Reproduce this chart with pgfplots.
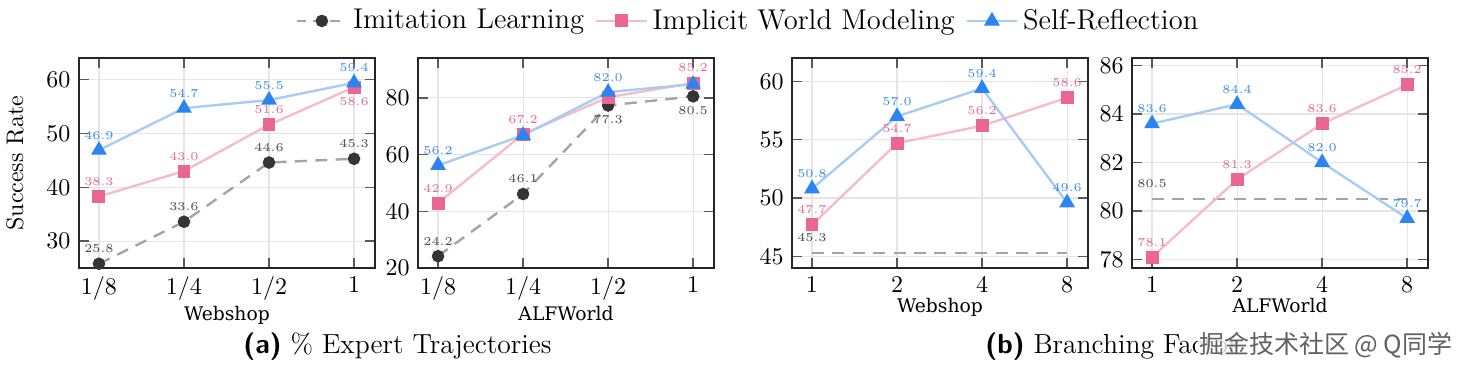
\documentclass[border=0pt]{standalone}
\usepackage{pgfplots}
\pgfplotsset{compat=1.18}
\usepackage{pgfplotstable}
\usepackage{fontspec}
\newfontfamily\cjk{Noto Sans CJK SC}
\newfontfamily\xlfont{DejaVu Serif}

\definecolor{illine}{HTML}{A4A4A4}
\definecolor{ilmark}{HTML}{353535}
\definecolor{iltext}{HTML}{4A4A4A}
\definecolor{iwmline}{HTML}{F5BCCD}
\definecolor{iwmmark}{HTML}{EB6693}
\definecolor{iwmtext}{HTML}{E5689A}
\definecolor{srline}{HTML}{AACBF2}
\definecolor{srmark}{HTML}{2A84F2}
\definecolor{srtext}{HTML}{3A8DE8}

% (a) Webshop, % expert trajectories
\pgfplotstableread{
x y lbl
0 25.8 25.8
1 33.6 33.6
2 44.6 44.6
3 45.3 45.3
}\aaIL
\pgfplotstableread{
x y lbl
0 38.3 38.3
1 43.0 43.0
2 51.6 51.6
3 58.6 {}
}\aaIWM
\pgfplotstableread{
x y lbl
3 58.6 58.6
}\aaIWMbelow
\pgfplotstableread{
x y lbl
0 46.9 46.9
1 54.7 54.7
2 56.2 55.5
3 59.4 59.4
}\aaSR
% (a) ALFWorld
\pgfplotstableread{
x y lbl
0 24.2 24.2
1 46.1 46.1
2 77.3 {}
3 80.5 {}
}\abIL
\pgfplotstableread{
x y lbl
2 77.3 77.3
3 80.5 80.5
}\abILbelow
\pgfplotstableread{
x y lbl
0 42.9 42.9
1 67.2 67.2
2 80.2 {}
3 85.2 85.2
}\abIWM
\pgfplotstableread{
x y lbl
0 56.2 56.2
1 66.8 {}
2 82.0 82.0
3 84.8 {}
}\abSR
% (b) Webshop, branching factor
\pgfplotstableread{
x y lbl
0 45.3 45.3
3 45.3 {}
}\baIL
\pgfplotstableread{
x y lbl
0 47.7 47.7
1 54.7 54.7
2 56.2 56.2
3 58.6 58.6
}\baIWM
\pgfplotstableread{
x y lbl
0 50.8 50.8
1 57.0 57.0
2 59.4 59.4
3 49.6 49.6
}\baSR
% (b) ALFWorld
\pgfplotstableread{
x y lbl
0 80.5 80.5
3 80.5 {}
}\bbIL
\pgfplotstableread{
x y lbl
0 78.1 78.1
1 81.3 81.3
2 83.6 83.6
3 85.2 85.2
}\bbIWM
\pgfplotstableread{
x y lbl
0 83.6 83.6
1 84.4 84.4
2 82.0 82.0
3 79.7 79.7
}\bbSR

\pgfplotsset{
  panel/.style={
    scale only axis, width=123.3pt, height=87.5pt, anchor=south west,
    xmin=-0.235, xmax=3.245, xtick={0,1,2,3},
    grid=major, major grid style={draw=black!10, line width=0.5pt},
    axis line style={line width=0.8pt, black!85},
    major tick length=4pt,
    tick style={black!65, line width=0.6pt},
    tick label style={font=\fontsize{10}{12}\selectfont},
    xlabel style={font=\xlfont\fontsize{7.8}{9}\selectfont, yshift=4.3pt},
    clip=false,
  },
  lbls/.style 2 args={
    nodes near coords, point meta=explicit symbolic,
    every node near coord/.append style={font=\tiny, anchor=#2, inner xsep=1pt, inner ysep=4pt, text=#1},
  },
  ilL/.style={color=illine, line width=1pt, dash pattern=on 4pt off 3pt, mark=*, mark size=2.1pt, mark options={solid, fill=ilmark, draw=ilmark}},
  iwmL/.style={color=iwmline, line width=1pt, mark=square*, mark size=2.2pt, mark options={fill=iwmmark, draw=iwmmark}},
  srL/.style={color=srline, line width=1pt, mark=triangle*, mark size=2.8pt, mark options={fill=srmark, draw=srmark}},
  il/.style={ilL, dash pattern=on 5pt off 3.5pt, lbls={iltext}{south}},
  ilflat/.style={color=illine, line width=1pt, dash pattern=on 5pt off 3.5pt, mark=none, lbls={iltext}{south}},
  iwm/.style={iwmL, lbls={iwmtext}{south}},
  sr/.style={srL, lbls={srtext}{south}},
  below/.style={draw=none, mark=none, lbls={#1}{north}},
}

\begin{document}
\begin{tikzpicture}
\path[use as bounding box] (0,0) rectangle (610pt,155pt);

\begin{axis}[panel, at={(32.9pt,43.3pt)}, ymin=25, ymax=64, ytick={30,40,50,60},
  xticklabels={$1/8$,$1/4$,$1/2$,$1$}, xlabel={Webshop}, ylabel={Success Rate},
  ylabel style={at={(axis description cs:-0.216,0.5)}, anchor=center, font=\fontsize{10}{12}\selectfont},
  legend style={at={(0.73,1.1766)}, anchor=west, draw=none, fill=none, legend columns=3,
    inner xsep=0pt, font=\fontsize{11.9}{13}\selectfont,
    /tikz/every odd column/.append style={column sep=0pt},
    /tikz/every even column/.append style={column sep=2.5pt}},
  legend image code/.code={\draw[mark repeat=2,mark phase=2] plot coordinates {(0pt,0pt) (10.5pt,0pt) (21pt,0pt)};},
  legend cell align=left]
\addlegendimage{ilL}\addlegendentry{Imitation Learning}
\addlegendimage{iwmL}\addlegendentry{Implicit World Modeling}
\addlegendimage{srL}\addlegendentry{Self-Reflection}
\addplot[il, forget plot] table[x=x,y=y,meta=lbl]{\aaIL};
\addplot[iwm, forget plot] table[x=x,y=y,meta=lbl]{\aaIWM};
\addplot[below=iwmtext, forget plot] table[x=x,y=y,meta=lbl]{\aaIWMbelow};
\addplot[sr, forget plot] table[x=x,y=y,meta=lbl]{\aaSR};
\end{axis}

\begin{axis}[panel, at={(174.2pt,43.3pt)}, ymin=20, ymax=94, ytick={20,40,60,80},
  xticklabels={$1/8$,$1/4$,$1/2$,$1$}, xlabel={ALFWorld}]
\addplot[il] table[x=x,y=y,meta=lbl]{\abIL};
\addplot[below=iltext] table[x=x,y=y,meta=lbl]{\abILbelow};
\addplot[iwm] table[x=x,y=y,meta=lbl]{\abIWM};
\addplot[sr] table[x=x,y=y,meta=lbl]{\abSR};
\end{axis}

\begin{axis}[panel, at={(330pt,43.3pt)}, ymin=44, ymax=62, ytick={45,50,55,60},
  xticklabels={$1$,$2$,$4$,$8$}, xlabel={Webshop}]
\addplot[ilflat] table[x=x,y=y,meta=lbl]{\baIL};
\addplot[iwm] table[x=x,y=y,meta=lbl]{\baIWM};
\addplot[sr] table[x=x,y=y,meta=lbl]{\baSR};
\end{axis}

\begin{axis}[panel, at={(471.7pt,43.3pt)}, ymin=77.65, ymax=86.3, ytick={78,80,82,84,86},
  xticklabels={$1$,$2$,$4$,$8$}, xlabel={ALFWorld}]
\addplot[ilflat] table[x=x,y=y,meta=lbl]{\bbIL};
\addplot[iwm] table[x=x,y=y,meta=lbl]{\bbIWM};
\addplot[sr] table[x=x,y=y,meta=lbl]{\bbSR};
\end{axis}

\node[anchor=west, font=\fontsize{11.5}{13}\selectfont, inner sep=0pt] at (101.25pt,10.4pt) {{\sffamily\bfseries (a)} \% Expert Trajectories};
\node[anchor=west, font=\fontsize{11.5}{13}\selectfont, inner sep=0pt] at (410.4pt,10.4pt) {{\sffamily\bfseries (b)} Branching Factor};
\node[anchor=west, fill=white, fill opacity=0.8, text opacity=1, inner xsep=0.5pt, inner ysep=1pt, text=black!62, font=\cjk\fontsize{10.4}{12}\selectfont] at (499pt,11pt) {掘金技术社区 @ Q同学};
\end{tikzpicture}
\end{document}
